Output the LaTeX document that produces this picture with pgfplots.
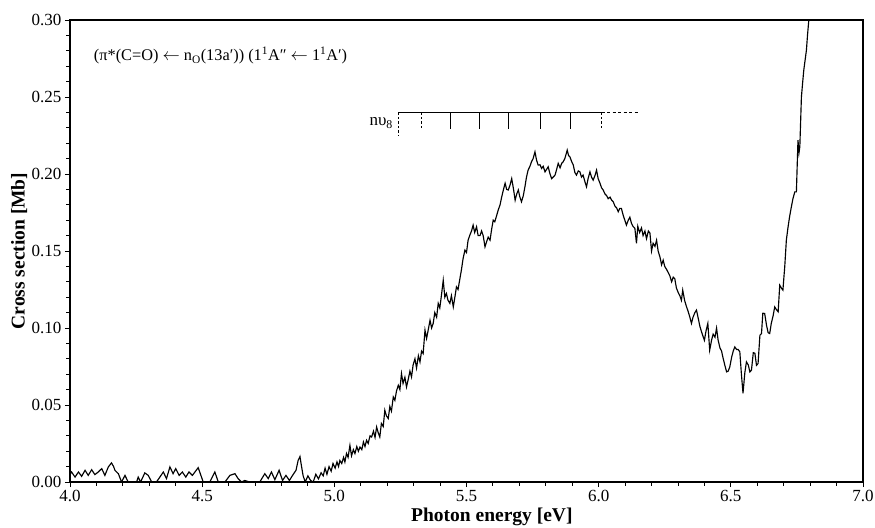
\documentclass[border=0pt]{standalone}
\usepackage{fontspec}
\setmainfont{Liberation Serif}
\usepackage{pgfplots}
\pgfplotsset{compat=1.18}
\begin{document}
\begin{tikzpicture}
\begin{axis}[
 scale only axis, width=793pt, height=462pt,
 xmin=4, xmax=7, ymin=0, ymax=0.3,
 xtick={4,4.5,5,5.5,6,6.5,7}, ytick={0,0.05,0.1,0.15,0.2,0.25,0.3},
 minor x tick num=4, minor y tick num=4,
 tick align=outside, tick pos=left,
 major tick length=5pt, minor tick length=3.5pt,
 xticklabel style={/pgf/number format/.cd, fixed, fixed zerofill, precision=1},
 yticklabel style={/pgf/number format/.cd, fixed, fixed zerofill, precision=2},
 /pgf/number format/assume math mode=true,
 ticklabel style={font=\fontsize{17}{20}\selectfont},
 xlabel={Photon energy [eV]}, ylabel={Cross section [Mb]},
 label style={font=\bfseries\fontsize{19.5}{23}\selectfont},
 xlabel style={at={(axis description cs:0.532,0)}, anchor=base, yshift=-39pt},
 ylabel style={at={(axis description cs:-0.064,0.5)}, anchor=center},
 axis line style={line width=1.1pt},
 every tick/.style={black, line width=0.9pt},
]
\addplot[black, line width=1.15pt] table {
4.000 0.005
4.006 0.0065
4.019 0.0032
4.032 0.0065
4.044 0.0037
4.057 0.0076
4.069 0.0043
4.082 0.008
4.094 0.0048
4.107 0.0065
4.120 0.0087
4.132 0.0043
4.145 0.0098
4.157 0.0124
4.165 0.010
4.170 0.0076
4.183 0.0054
4.195 0
4.208 0.0043
4.220 0
4.252 0
4.258 0.0032
4.267 0
4.283 0.0059
4.296 0.0043
4.309 0
4.327 0
4.340 0.0032
4.353 0.0065
4.365 0.0022
4.378 0.0098
4.390 0.0054
4.400 0.0087
4.413 0.0043
4.425 0.0065
4.438 0.0032
4.450 0.0065
4.463 0.0043
4.485 0.0093
4.504 0
4.529 0
4.548 0.0065
4.561 0
4.586 0
4.605 0.0043
4.624 0.0054
4.636 0.0022
4.649 0
4.661 0.001
4.680 0
4.718 0
4.737 0.0054
4.750 0.0022
4.762 0.0065
4.775 0.0015
4.791 0.0076
4.804 0.001
4.817 0.0043
4.830 0.001
4.842 0.0043
4.855 0.0076
4.863 0.014
4.870 0.0165
4.876 0.010
4.882 0.004
4.890 0.0
4.900 0.004
4.910 0.001
4.920 0.0
4.930 0.005
4.940 0.002
4.950 0.006
4.958 0.004
4.965 0.009
4.972 0.005
4.980 0.010
4.988 0.007
4.995 0.012
5.003 0.009
5.010 0.013
5.016 0.010
5.021 0.014
5.028 0.012
5.035 0.016
5.040 0.013
5.046 0.0185
5.052 0.016
5.059 0.0238
5.065 0.017
5.072 0.021
5.078 0.0185
5.085 0.023
5.091 0.020
5.097 0.0227
5.104 0.021
5.110 0.026
5.116 0.023
5.122 0.0271
5.128 0.025
5.135 0.030
5.141 0.0292
5.148 0.033
5.154 0.029
5.160 0.0357
5.166 0.032
5.172 0.0292
5.178 0.038
5.185 0.036
5.191 0.0466
5.197 0.043
5.204 0.0412
5.210 0.049
5.216 0.046
5.223 0.0552
5.229 0.053
5.235 0.059
5.242 0.0628
5.248 0.060
5.254 0.0704
5.260 0.064
5.267 0.068
5.273 0.0617
5.280 0.067
5.286 0.072
5.292 0.0682
5.298 0.076
5.305 0.080
5.311 0.074
5.318 0.082
5.324 0.078
5.330 0.085
5.336 0.0834
5.343 0.0986
5.349 0.0932
5.355 0.0986
5.362 0.105
5.368 0.100
5.374 0.103
5.380 0.110
5.387 0.107
5.393 0.116
5.399 0.113
5.405 0.121
5.412 0.131
5.418 0.120
5.424 0.1224
5.430 0.118
5.437 0.116
5.443 0.121
5.450 0.1137
5.456 0.120
5.462 0.1267
5.468 0.125
5.475 0.132
5.481 0.138
5.487 0.145
5.494 0.1506
5.500 0.149
5.506 0.157
5.512 0.160
5.519 0.163
5.525 0.1668
5.531 0.162
5.538 0.1657
5.544 0.160
5.551 0.160
5.557 0.163
5.563 0.160
5.570 0.1527
5.576 0.156
5.582 0.159
5.589 0.157
5.595 0.164
5.601 0.170
5.607 0.169
5.614 0.173
5.620 0.1766
5.627 0.180
5.633 0.185
5.640 0.190
5.646 0.194
5.652 0.190
5.658 0.1896
5.665 0.193
5.671 0.197
5.678 0.190
5.684 0.183
5.690 0.187
5.696 0.1896
5.702 0.185
5.708 0.182
5.715 0.186
5.721 0.1917
5.727 0.198
5.733 0.2025
5.740 0.205
5.746 0.208
5.752 0.210
5.759 0.2144
5.765 0.209
5.771 0.2058
5.778 0.206
5.784 0.2036
5.790 0.205
5.797 0.2014
5.803 0.203
5.809 0.2047
5.816 0.200
5.822 0.197
5.828 0.198
5.835 0.1993
5.841 0.203
5.847 0.2069
5.854 0.204
5.860 0.2069
5.866 0.208
5.872 0.210
5.877 0.213
5.881 0.2155
5.886 0.212
5.891 0.2112
5.898 0.208
5.904 0.2058
5.910 0.201
5.916 0.1993
5.923 0.202
5.929 0.2014
5.935 0.198
5.941 0.1993
5.948 0.195
5.954 0.1917
5.960 0.197
5.967 0.2014
5.973 0.198
5.979 0.196
5.986 0.199
5.992 0.2025
5.998 0.197
6.005 0.194
6.011 0.191
6.017 0.1896
6.024 0.187
6.030 0.186
6.036 0.184
6.043 0.185
6.049 0.183
6.055 0.182
6.062 0.179
6.068 0.178
6.074 0.1755
6.080 0.1777
6.086 0.1777
6.093 0.173
6.099 0.170
6.105 0.1668
6.112 0.170
6.118 0.172
6.124 0.168
6.130 0.166
6.137 0.1647
6.143 0.155
6.148 0.166
6.155 0.162
6.162 0.165
6.168 0.160
6.175 0.163
6.181 0.158
6.188 0.163
6.194 0.1616
6.200 0.150
6.206 0.155
6.213 0.153
6.219 0.157
6.225 0.150
6.232 0.146
6.238 0.141
6.244 0.144
6.250 0.140
6.257 0.138
6.263 0.136
6.269 0.134
6.276 0.130
6.282 0.133
6.288 0.132
6.294 0.126
6.301 0.123
6.307 0.121
6.313 0.118
6.318 0.1246
6.325 0.118
6.332 0.114
6.338 0.111
6.345 0.107
6.351 0.103
6.357 0.107
6.364 0.110
6.370 0.1116
6.377 0.106
6.383 0.101
6.390 0.097
6.396 0.094
6.400 0.092
6.406 0.098
6.413 0.103
6.420 0.0856
6.427 0.092
6.433 0.096
6.440 0.094
6.446 0.0999
6.452 0.092
6.459 0.087
6.465 0.085
6.470 0.081
6.477 0.076
6.484 0.0715
6.490 0.072
6.496 0.0747
6.503 0.081
6.509 0.085
6.515 0.0877
6.522 0.086
6.528 0.086
6.534 0.0845
6.540 0.070
6.546 0.0576
6.553 0.071
6.559 0.078
6.566 0.076
6.572 0.0715
6.578 0.0726
6.585 0.084
6.591 0.0836
6.597 0.0758
6.603 0.0769
6.610 0.0953
6.616 0.0964
6.621 0.1096
6.628 0.1094
6.635 0.1018
6.641 0.097
6.647 0.0964
6.653 0.103
6.660 0.108
6.666 0.1137
6.672 0.112
6.679 0.1105
6.685 0.1278
6.691 0.126
6.697 0.1246
6.704 0.140
6.710 0.157
6.716 0.165
6.722 0.172
6.729 0.1787
6.735 0.184
6.742 0.1884
6.748 0.1884
6.754 0.222
6.758 0.214
6.761 0.2177
6.767 0.250
6.772 0.260
6.776 0.2675
6.781 0.274
6.786 0.2805
6.790 0.290
6.795 0.300
6.800 0.310
};
% vibrational progression
\draw[line width=0.8pt] (axis cs:5.244,0.24) -- (axis cs:6.011,0.24);
\draw[line width=0.8pt, dash pattern=on 3pt off 2.5pt] (axis cs:6.011,0.24) -- (axis cs:6.147,0.24);
\draw[line width=0.8pt, dash pattern=on 2.5pt off 2pt] (axis cs:5.244,0.24) -- (axis cs:5.244,0.2247);
\draw[line width=0.8pt, dash pattern=on 2.5pt off 2pt] (axis cs:5.330,0.24) -- (axis cs:5.330,0.229);
\draw[line width=0.8pt, dash pattern=on 2.5pt off 2pt] (axis cs:6.011,0.24) -- (axis cs:6.011,0.229);
\draw[line width=0.8pt] (axis cs:5.440,0.24) -- (axis cs:5.440,0.229);
\draw[line width=0.8pt] (axis cs:5.547,0.24) -- (axis cs:5.547,0.229);
\draw[line width=0.8pt] (axis cs:5.657,0.24) -- (axis cs:5.657,0.229);
\draw[line width=0.8pt] (axis cs:5.778,0.24) -- (axis cs:5.778,0.229);
\draw[line width=0.8pt] (axis cs:5.894,0.24) -- (axis cs:5.894,0.229);
\node[anchor=east, font=\fontsize{17}{20}\selectfont] at (axis cs:5.235,0.233) {nυ\textsubscript{8}};
\node[anchor=west, inner sep=0pt, font=\fontsize{16.3}{20}\selectfont] at (axis cs:4.09,0.277)
  {(π*(C=O) $\leftarrow$ n\textsubscript{O}(13a′)) (1\textsuperscript{1}A″ $\leftarrow$ 1\textsuperscript{1}A′)};
\end{axis}
\pgfresetboundingbox
\useasboundingbox ([xshift=-70pt,yshift=-45.3pt]current axis.south west) rectangle ([xshift=12pt,yshift=20pt]current axis.north east);
\end{tikzpicture}
\end{document}
